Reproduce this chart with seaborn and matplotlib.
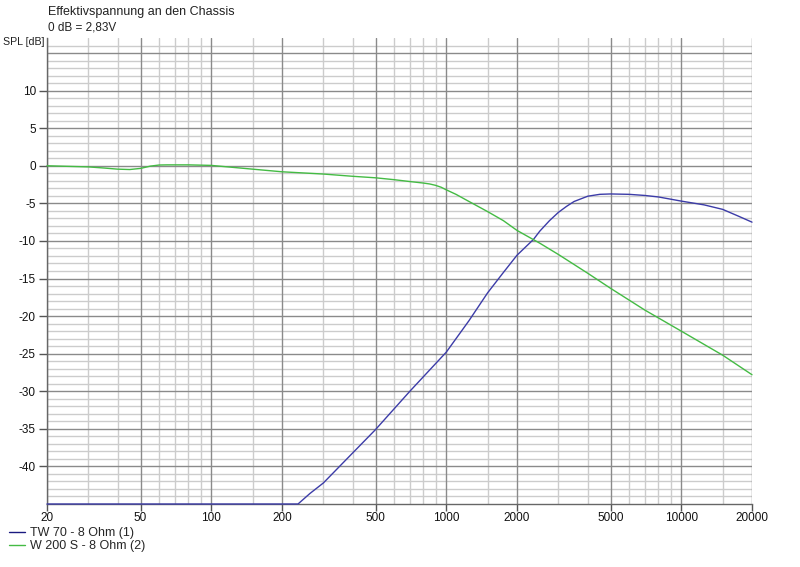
import numpy as np
import pandas as pd
import matplotlib
matplotlib.use("Agg")
import matplotlib.pyplot as plt
from matplotlib.ticker import FixedLocator, NullFormatter
import seaborn as sns

# ---- data ----
tw_label = "TW 70 - 8 Ohm (1)"
tw_freq = [20, 100, 200, 234, 263, 300, 400, 500, 700, 1000, 1250, 1500, 1750,
           2000, 2350, 2500, 2750, 3000, 3250, 3500, 4000, 4500, 5000, 6000,
           7000, 8000, 10000, 12500, 15000, 17500, 20000]
tw_db = [-45, -45, -45, -45, -43.6, -42.2, -38.2, -35.1, -30.0, -24.8, -20.6,
         -16.9, -14.2, -11.9, -9.8, -8.7, -7.3, -6.2, -5.4, -4.75, -4.05, -3.8,
         -3.75, -3.8, -3.95, -4.15, -4.7, -5.2, -5.8, -6.7, -7.5]

w_label = "W 200 S - 8 Ohm (2)"
w_freq = [20, 30, 35, 40, 45, 50, 55, 60, 65, 80, 100, 150, 200, 300, 400, 500,
          600, 700, 800, 850, 900, 950, 1000, 1100, 1200, 1500, 1750, 2000, 2500,
          3000, 4000, 5000, 7000, 10000, 15000, 20000]
w_db = [0, -0.15, -0.3, -0.45, -0.5, -0.35, -0.05, 0.1, 0.12, 0.12, 0.05, -0.45,
        -0.8, -1.1, -1.4, -1.6, -1.85, -2.1, -2.3, -2.42, -2.6, -2.85, -3.2,
        -3.8, -4.45, -6.1, -7.3, -8.6, -10.3, -11.8, -14.3, -16.3, -19.2, -22.0,
        -25.2, -27.8]

x_ticks = [20, 50, 100, 200, 500, 1000, 2000, 5000, 10000, 20000]
x_minor = [30, 40, 60, 70, 80, 90, 150, 300, 400, 600, 700, 800, 900, 1500,
           3000, 4000, 6000, 7000, 8000, 9000, 15000]
y_ticks = [10, 5, 0, -5, -10, -15, -20, -25, -30, -35, -40]

title1 = "Effektivspannung an den Chassis"
title2 = "0 dB = 2,83V"
ylabel = "SPL [dB]"

# ---- style ----
sns.set_style("white")
plt.rcParams['font.family'] = ['Liberation Sans', 'DejaVu Sans']
FS = 8.5

df = pd.concat([
    pd.DataFrame({"freq": tw_freq, "spl": tw_db, "series": tw_label}),
    pd.DataFrame({"freq": w_freq, "spl": w_db, "series": w_label}),
], ignore_index=True)

fig = plt.figure(figsize=(8, 5.67), dpi=100)
ax = fig.add_axes([47/800, 1-504/567, (752-47)/800, (504-38)/567])

palette = {tw_label: "#3c3ca8", w_label: "#44bb44"}
sns.lineplot(data=df, x="freq", y="spl", hue="series", palette=palette,
             linewidth=1.0, ax=ax, estimator=None, sort=False, clip_on=False,
             zorder=3)

ax.set_xscale("log")
ax.set_xlim(20, 20000)
ax.set_ylim(-45, 17)

# grid
major_c = "#8a8a8a"
minor_c = "#cccccc"
for f in x_minor:
    ax.axvline(f, color=minor_c, lw=1.0, zorder=0)
for f in x_ticks:
    ax.axvline(f, color=major_c, lw=1.0, zorder=0.5)
for v in range(-44, 17):
    if v % 5 != 0:
        ax.axhline(v, color=minor_c, lw=1.0, zorder=0)
for v in range(-40, 16, 5):
    ax.axhline(v, color=major_c, lw=1.0, zorder=0.5)

ax.xaxis.set_major_locator(FixedLocator(x_ticks))
ax.xaxis.set_minor_locator(FixedLocator([]))
ax.set_xticklabels([str(t) for t in x_ticks])
ax.xaxis.set_minor_formatter(NullFormatter())
ax.set_yticks(y_ticks)
ax.set_yticklabels([str(t) for t in y_ticks])
ax.tick_params(axis="both", which="major", direction="out", length=6, width=1,
               color="#555555", labelsize=FS, labelcolor="#111111", pad=2,
               bottom=True, left=True)
ax.tick_params(axis="x", which="major", length=5, pad=0.5)

for s in ["top", "right"]:
    ax.spines[s].set_visible(False)
ax.spines["left"].set_color("#666666")
ax.spines["bottom"].set_color("#666666")
ax.spines["left"].set_linewidth(1.0)
ax.spines["bottom"].set_linewidth(1.0)
ax.set_xlabel("")
ax.set_ylabel("")

fig.text(48/800, 1-12/567, title1, fontsize=FS + 0.5, color="#222222", va="center", ha="left")
fig.text(48/800, 1-27/567, title2, fontsize=FS, color="#222222", va="center", ha="left")
fig.text(3/800, 1-42/567, ylabel, fontsize=FS - 0.8, color="#222222", va="center", ha="left")

sns.move_legend(ax, loc="upper left", bbox_to_anchor=(9/800, 1-527/567),
                bbox_transform=fig.transFigure, frameon=False, title=None,
                fontsize=FS + 0.5, handlelength=1.3, handletextpad=0.35,
                labelspacing=0.1, borderpad=0, borderaxespad=0)
leg = ax.get_legend()
for line, c in zip(leg.get_lines(), ["#1a1a80", "#44bb44"]):
    line.set_color(c)
    line.set_linewidth(1.0)

fig.savefig("out.png", dpi=100)
